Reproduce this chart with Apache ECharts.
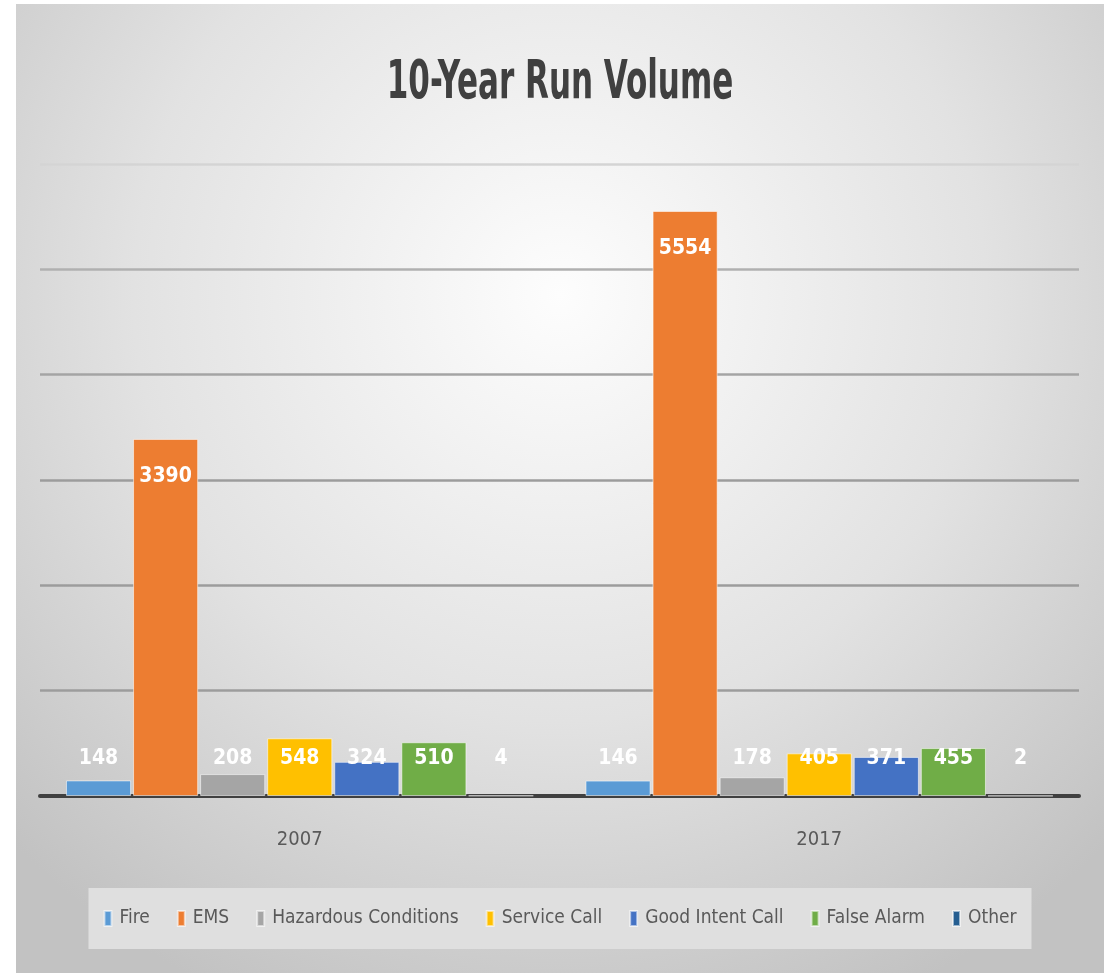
<!DOCTYPE html>
<html>
<head>
<meta charset="utf-8">
<title>10-Year Run Volume</title>
<script src="https://cdn.jsdelivr.net/npm/echarts@6/dist/echarts.min.js"></script>
<style>
  html, body { margin: 0; padding: 0; background: #ffffff; }
  #chart { position: absolute; left: 16px; top: 4px; width: 1088px; height: 969px; }
</style>
</head>
<body>
<div id="chart"></div>
<script>
// Run counts by incident type for each year
const years = ['2007', '2017'];
const fire = [148, 146];
const ems = [3390, 5554];
const hazardous = [208, 178];
const serviceCall = [548, 405];
const goodIntent = [324, 371];
const falseAlarm = [510, 455];
const other = [4, 2];

const seriesDefs = [
  { name: 'Fire', data: fire, color: '#5B9BD5' },
  { name: 'EMS', data: ems, color: '#ED7D31' },
  { name: 'Hazardous Conditions', data: hazardous, color: '#A5A5A5' },
  { name: 'Service Call', data: serviceCall, color: '#FFC000' },
  { name: 'Good Intent Call', data: goodIntent, color: '#4472C4' },
  { name: 'False Alarm', data: falseAlarm, color: '#70AD47' },
  { name: 'Other', data: other, color: '#255E91' }
];

const FONT = '"DejaVu Sans Condensed", "DejaVu Sans", sans-serif';
const chartTitle = '10-Year Run Volume';

const el = document.getElementById('chart');
const chart = echarts.init(el);
const W = el.clientWidth;

chart.setOption({
  backgroundColor: {
    type: 'radial', x: 0.5, y: 0.3, r: 0.8,
    colorStops: [
      { offset: 0, color: '#fdfdfd' },
      { offset: 0.55, color: '#e2e2e2' },
      { offset: 1, color: '#c2c2c2' }
    ]
  },
  animation: false,
  // condensed title text, drawn as a horizontally squeezed graphic
  graphic: [{
    type: 'text',
    x: W / 2,
    y: 54,
    scaleX: 0.65,
    style: {
      text: chartTitle,
      align: 'center',
      verticalAlign: 'top',
      fontFamily: FONT,
      fontSize: 53,
      fontWeight: 'bold',
      fill: '#404040'
    }
  }],
  legend: {
    bottom: 24,
    left: 'center',
    itemWidth: 7,
    itemHeight: 15,
    itemGap: 27,
    padding: [21, 15],
    backgroundColor: '#dfdfdf',
    icon: 'rect',
    textStyle: { fontFamily: FONT, fontSize: 19, color: '#595959', padding: [0, 0, 0, 3] },
    data: seriesDefs.map(s => s.name)
  },
  grid: { left: 24, right: 25, top: 160, bottom: 177 },
  xAxis: {
    type: 'category',
    data: years,
    axisLine: { lineStyle: { color: '#404040', width: 4 } },
    axisTick: { show: false },
    axisLabel: { fontFamily: FONT, fontSize: 20, color: '#595959', margin: 34 }
  },
  yAxis: {
    type: 'value',
    min: 0,
    max: 6000,
    interval: 1000,
    axisLabel: { show: false },
    axisLine: { show: false },
    axisTick: { show: false },
    splitLine: {
      lineStyle: {
        color: ['#9c9c9c', '#9c9c9c', '#9c9c9c', '#9c9c9c', '#a4a4a4', '#b0b0b0', '#d4d4d4'],
        width: 2.5
      }
    }
  },
  series: seriesDefs.map(s => ({
    name: s.name,
    type: 'bar',
    data: s.data,
    barCategoryGap: '10%',
    barGap: '3%',
    itemStyle: { color: s.color, borderColor: 'rgba(255,255,255,0.55)', borderWidth: 1 },
    label: {
      show: true,
      position: s.name === 'EMS' ? 'insideTop' : 'insideBottom',
      distance: 27,
      color: '#ffffff',
      fontFamily: FONT,
      fontSize: 21,
      fontWeight: 'bold'
    }
  }))
});
</script>
</body>
</html>
